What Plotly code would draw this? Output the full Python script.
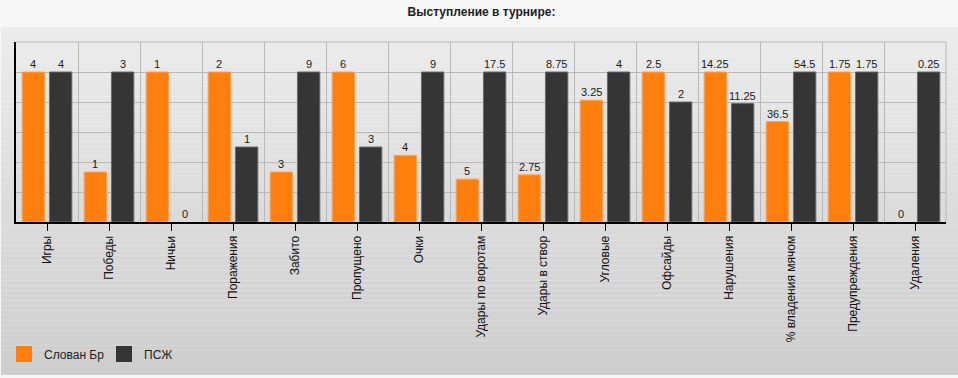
import plotly.graph_objects as go

categories = ["Игры", "Победы", "Ничьи", "Поражения", "Забито", "Пропущено", "Очки",
              "Удары по воротам", "Удары в створ", "Угловые", "Офсайды", "Нарушения",
              "% владения мячом", "Предупреждения", "Удаления"]
slovan = [4, 1, 1, 2, 3, 6, 4, 5, 2.75, 3.25, 2.5, 14.25, 36.5, 1.75, 0]
psg = [4, 3, 0, 1, 9, 3, 9, 17.5, 8.75, 4, 2, 11.25, 54.5, 1.75, 0.25]
team_names = ["Слован Бр", "ПСЖ"]
title_text = "Выступление в турнире:"

ORANGE = "#ff7f0e"
DARK = "#353535"

# bars are scaled per category relative to the larger value (=100)
def norm(a, b):
    m = max(a, b)
    return (a / m * 100 if m else 0), (b / m * 100 if m else 0)

h_s, h_p = [], []
for a, b in zip(slovan, psg):
    x1, x2 = norm(a, b)
    h_s.append(x1)
    h_p.append(x2)

idx = list(range(len(categories)))

fig = go.Figure()
fig.add_trace(go.Bar(x=idx, y=h_s, name=team_names[0],
                     marker=dict(color=ORANGE, line=dict(color="#ffa357", width=[1 if v > 0 else 0 for v in h_s])),
                     showlegend=False, hoverinfo="skip"))
fig.add_trace(go.Bar(x=idx, y=h_p, name=team_names[1],
                     marker=dict(color=DARK, line=dict(color="#6a6a6a", width=[1 if v > 0 else 0 for v in h_p])),
                     showlegend=False, hoverinfo="skip"))
# legend entries
for nm, col in zip(team_names, [ORANGE, DARK]):
    fig.add_trace(go.Scatter(x=[None], y=[None], mode="markers", name=nm,
                             marker=dict(symbol="square", size=16, color=col)))

OFF = 0.22
ann = []
for i in idx:
    for hv, v, sgn in ((h_s[i], slovan[i], -1), (h_p[i], psg[i], 1)):
        ann.append(dict(x=i + sgn * OFF, y=hv, xref="x", yref="y", text=f"{v:g}", showarrow=False,
                        yanchor="bottom", yshift=0, font=dict(family="Liberation Sans, Arial", size=11, color="#1a1a1a")))

# background: top band + vertical gradient
shapes = []
W, H = 958, 378
L, R, T, B = 16, 12, 42, 156
pw, ph = W - L - R, H - T - B

def px_x(p):
    return (p - L) / pw

def px_y(p):
    return (H - B - p) / ph

shapes.append(dict(type="rect", xref="paper", yref="paper", x0=px_x(0), x1=px_x(W), y0=px_y(27), y1=px_y(0),
                   fillcolor="#f7f7f7", line=dict(width=0), layer="below"))
n = 70
top, bot = 27, 375
c0, c1 = 0xec, 0xcd
for k in range(n):
    y0 = top + (bot - top) * k / n
    y1 = top + (bot - top) * (k + 1) / n
    c = round(c0 + (c1 - c0) * (k + 0.5) / n)
    shapes.append(dict(type="rect", xref="paper", yref="paper", x0=px_x(1), x1=px_x(W), y0=px_y(y1), y1=px_y(y0),
                       fillcolor=f"rgb({c},{c},{c})", line=dict(width=0), layer="below"))
shapes.append(dict(type="rect", xref="paper", yref="paper", x0=px_x(0), x1=px_x(W), y0=px_y(H), y1=px_y(bot),
                   fillcolor="#f7f7f7", line=dict(width=0), layer="below"))
# right & top border of plot area
shapes.append(dict(type="line", xref="paper", yref="paper", x0=1, x1=1, y0=0, y1=1, line=dict(color="#b8b8b8", width=1)))
shapes.append(dict(type="line", xref="paper", yref="paper", x0=0, x1=1, y0=1, y1=1, line=dict(color="#b8b8b8", width=1)))

fig.update_layout(
    width=W, height=H,
    margin=dict(l=L, r=R, t=T, b=B, pad=0, autoexpand=False),
    paper_bgcolor="#f7f7f7", plot_bgcolor="rgba(0,0,0,0)",
    barmode="group", bargap=0.12, bargroupgap=0.18,
    font=dict(family="Liberation Sans, Arial", size=12, color="#222222"),
    title=dict(text=f"<b>{title_text}</b>", x=481.5 / W, xref="container", xanchor="center",
               y=1 - 11.5 / H, yref="container", yanchor="middle",
               font=dict(family="Liberation Sans, Arial", size=12, color="#222222")),
    shapes=shapes,
    annotations=ann,
    legend=dict(orientation="h", xref="container", yref="container", x=4 / W, xanchor="left",
                y=1 - 354 / H, yanchor="middle",
                entrywidth=55, entrywidthmode="pixels", bgcolor="rgba(0,0,0,0)",
                font=dict(family="Liberation Sans, Arial", size=12, color="#222222")),
    xaxis=dict(range=[-0.5, len(categories) - 0.5], tickmode="array", tickvals=idx, ticktext=categories,
               automargin=False,
               tickangle=-90, ticks="outside", ticklen=7, tickcolor="#000000", tickwidth=1,
               showgrid=False, zeroline=False, showline=True, linecolor="#000000", linewidth=2,
               tickfont=dict(family="Liberation Sans, Arial", size=12, color="#111111"),
               minor=dict(tickmode="array", tickvals=[i + 0.5 for i in idx], showgrid=True,
                          gridcolor="#b8b8b8", gridwidth=1, ticks="")),
    yaxis=dict(range=[0, 120], dtick=20, showgrid=True, gridcolor="#b8b8b8", gridwidth=1,
               automargin=False,
               showticklabels=False, ticks="", zeroline=False, showline=True,
               linecolor="#000000", linewidth=2),
)

fig.write_html("out.html", config={"displayModeBar": False},
               post_script="document.body.style.margin='0';")
